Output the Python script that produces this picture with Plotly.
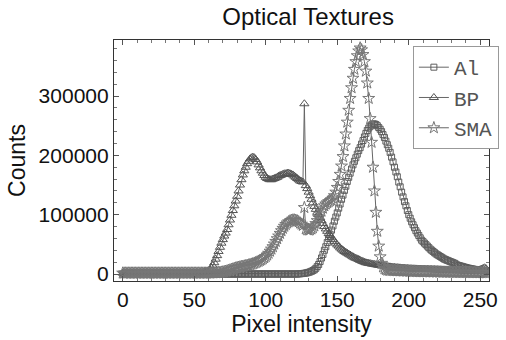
import plotly.graph_objects as go

# Pixel intensity 0..255
intensity = list(range(256))

# Counts in thousands
al_k = [
    0, 0, 0, 0, 0, 0, 0, 0, 0, 0,            # 0
    0, 0, 0, 0, 0, 0, 0, 0, 0, 0,            # 10
    0, 0, 0, 0, 0, 0, 0, 0, 0, 0,            # 20
    0, 0, 0, 0, 0, 0, 0, 0, 0, 0,            # 30
    0, 0, 0, 0, 0, 0, 0, 0, 0, 0,            # 40
    0, 0, 0, 0, 0, 0, 0, 0, 0, 0,            # 50
    0, 0, 0, 0, 0, 0, 0, 0, 0, 0,            # 60
    0, 0, 0, 0, 0, 0, 0, 0, 0, 0,            # 70
    0, 0, 0, 0, 0, 0, 0, 0, 0, 0,            # 80
    0, 0, 0, 0, 0, 0, 0, 0, 0, 0,            # 90
    0, 0, 0, 0, 0, 0, 0, 0, 0, 0,            # 100
    0, 0, 0, 0, 0, 0, 0, 0, 0, 0,            # 110
    0, 0, 0, 0.2, 0.4, 0.6, 0.9, 1.2, 1.6, 2.1,            # 120
    2.8, 3.6, 4.6, 5.8, 7.2, 9.5, 12.5, 16, 21, 27,        # 130
    33, 40, 46, 53, 60, 67, 74, 81, 89, 96,                # 140
    103, 111, 118, 126, 133, 141, 148, 156, 163, 170,      # 150
    177, 184, 190, 196, 202, 208, 213, 219, 225, 231,      # 160
    237, 242, 246, 249, 251, 253, 253, 252, 250, 247,      # 170
    244, 240, 235, 230, 224, 218, 212, 205, 197, 189,      # 180
    180, 172, 164, 155, 147, 138, 130, 122, 115, 107,      # 190
    100, 94, 88, 83, 78, 73, 69, 65, 61, 57,               # 200
    54.5, 52, 49.5, 47, 44.5, 42, 40, 38, 36, 34,          # 210
    32.5, 31, 29.5, 28, 26.5, 25, 24, 23, 22, 21,          # 220
    20, 19, 18, 16.5, 15, 14.3, 13.6, 12.9, 12.2, 11.5,    # 230
    10.8, 10.2, 9.7, 9.2, 8.7, 8.2, 7.8, 7.4, 7.0, 6.7,    # 240
    6.4, 6.1, 5.8, 5.5, 5.2, 5.0,                          # 250
]

bp_k = [
    1.5, 1.5, 1.5, 1.5, 1.5, 1.5, 1.5, 1.5, 1.5, 1.5,      # 0
    1.5, 1.5, 1.5, 1.5, 1.5, 1.5, 1.5, 1.5, 1.5, 1.5,      # 10
    1.5, 1.5, 1.5, 1.5, 1.5, 1.5, 1.5, 1.5, 1.5, 1.5,      # 20
    1.5, 1.5, 1.5, 1.5, 1.5, 1.5, 1.5, 1.5, 1.5, 1.5,      # 30
    1.5, 1.5, 1.5, 1.5, 1.5, 1.5, 1.5, 1.5, 1.5, 1.5,      # 40
    1.5, 1.6, 1.7, 1.8, 2.0, 2.2, 2.5, 3.0, 3.6, 4.5,      # 50
    5.5, 7, 10, 14, 19, 25, 31, 38, 45, 52,                # 60
    58, 64, 69, 75, 83, 91, 99, 107, 115, 123,             # 70
    131, 140, 150, 159, 167, 174, 180, 186, 190, 194,      # 80
    196, 197, 196, 193, 189, 184, 179, 174, 170, 166,      # 90
    163, 161, 160, 159, 159, 160, 161, 162, 163, 165,      # 100
    166, 167, 168, 169, 169, 170, 170, 169, 168, 167,      # 110
    165, 163, 161, 159, 157, 156, 155, 287, 149, 144,      # 120
    138, 132, 126, 120, 114, 109, 104, 100, 95, 90,        # 130
    85, 80, 76, 72, 68, 65, 62, 58, 55, 52,                # 140
    49, 47, 44, 42, 40, 38, 36.5, 35, 33.5, 32,            # 150
    30.5, 29, 27.5, 26.5, 25.5, 24.5, 23, 22, 21, 20,      # 160
    19, 18.5, 18, 17.5, 17, 16.5, 16, 15.6, 15.2, 14.8,    # 170
    14.4, 14, 13.6, 13.2, 12.9, 12.6, 12.3, 12, 11.7, 11.4,  # 180
    11.1, 10.9, 10.7, 10.5, 10.3, 10.1, 9.9, 9.7, 9.5, 9.3,  # 190
    9.1, 9.0, 8.9, 8.8, 8.7, 8.6, 8.5, 8.4, 8.3, 8.2,      # 200
    8.1, 8.0, 7.9, 7.8, 7.7, 7.6, 7.5, 7.4, 7.3, 7.2,      # 210
    7.1, 7.0, 6.9, 6.8, 6.7, 6.6, 6.5, 6.4, 6.3, 6.2,      # 220
    6.1, 6.0, 5.9, 5.8, 5.7, 5.6, 5.5, 5.4, 5.3, 5.2,      # 230
    5.1, 5.0, 5.0, 5.0, 5.0, 5.1, 5.3, 5.6, 6.0, 6.6,      # 240
    7.4, 8.4, 9.5, 10.5, 9.0, 5.0,                         # 250
]

sma_k = [
    1.5, 1.5, 1.5, 1.5, 1.5, 1.5, 1.5, 1.5, 1.5, 1.5,      # 0
    1.5, 1.5, 1.5, 1.5, 1.5, 1.5, 1.5, 1.5, 1.5, 1.5,      # 10
    1.5, 1.5, 1.5, 1.5, 1.5, 1.5, 1.5, 1.5, 1.5, 1.5,      # 20
    1.5, 1.5, 1.5, 1.5, 1.5, 1.5, 1.5, 1.5, 1.5, 1.5,      # 30
    1.5, 1.5, 1.5, 1.5, 1.5, 1.5, 1.5, 1.5, 1.5, 1.5,      # 40
    1.5, 1.5, 1.5, 1.5, 1.5, 1.5, 1.5, 1.5, 1.5, 1.5,      # 50
    1.5, 1.6, 1.7, 1.8, 1.9, 2.0, 2.2, 2.4, 2.7, 3.0,      # 60
    3.4, 3.9, 4.5, 5.2, 6.0, 6.8, 7.6, 8.4, 9.2, 10,       # 70
    10.7, 11.3, 11.9, 12.4, 12.9, 13.4, 13.9, 14.5, 15.1, 15.8,  # 80
    16.5, 17.3, 18.2, 19.2, 20.3, 21.5, 22.8, 24.2, 25.8, 27.5,  # 90
    29.5, 32, 35, 38.5, 42, 46, 50.5, 55, 59.5, 64,        # 100
    68.5, 73, 77, 80.5, 83.5, 86, 88, 89.5, 90.5, 91,      # 110
    91, 90.5, 89.5, 88, 86, 84, 82, 112, 76, 74.5,         # 120
    74, 74.5, 76, 78, 81, 85, 90, 95, 101, 106,            # 130
    111, 115, 118, 120, 122, 123.5, 125, 128, 132, 138,    # 140
    146, 156, 168, 182, 198, 216, 236, 256, 276, 296,      # 150
    314, 330, 345, 358, 368, 376, 381, 378, 370, 358,      # 160
    342, 322, 296, 262, 222, 180, 140, 104, 72, 47,        # 170
    29, 18, 12, 9, 7.5, 6.5, 6.2, 6.0, 5.9, 5.8,           # 180
    5.7, 5.6, 5.5, 5.4, 5.3, 5.2, 5.1, 5.0, 4.9, 4.8,      # 190
    4.7, 4.6, 4.5, 4.4, 4.3, 4.2, 4.1, 4.0, 4.0, 3.9,      # 200
    3.9, 3.8, 3.8, 3.7, 3.7, 3.6, 3.6, 3.5, 3.5, 3.4,      # 210
    3.4, 3.3, 3.3, 3.2, 3.2, 3.1, 3.1, 3.0, 3.0, 3.0,      # 220
    2.9, 2.9, 2.9, 2.8, 2.8, 2.8, 2.7, 2.7, 2.7, 2.6,      # 230
    2.6, 2.6, 2.5, 2.5, 2.5, 2.4, 2.4, 2.4, 2.3, 2.3,      # 240
    2.3, 2.2, 2.2, 2.2, 2.1, 2.1,                          # 250
]

series_names = ["Al", "BP", "SMA"]
x_ticks = [0, 50, 100, 150, 200, 250]
y_ticks = [0, 100000, 200000, 300000]

def scale(vals):
    return [v * 1000 for v in vals]

fig = go.Figure()
styles = {
    "Al": dict(symbol="square-open", size=6, color="#5e5e5e"),
    "BP": dict(symbol="triangle-up-open", size=8, color="#555555"),
    "SMA": dict(symbol="star-open", size=9, color="#777777"),
}
for name, vals in zip(series_names, [al_k, bp_k, sma_k]):
    st = styles[name]
    fig.add_trace(go.Scatter(
        x=intensity, y=scale(vals), name=name, mode="lines+markers",
        line=dict(color="#666666", width=1),
        marker=dict(symbol=st["symbol"], size=st["size"], color=st["color"],
                    line=dict(width=1, color=st["color"])),
    ))

font_main = "Liberation Sans, Arial, sans-serif"
axis_common = dict(
    showline=True, linecolor="#333333", linewidth=1.2, mirror="allticks",
    ticks="inside", ticklen=5, tickcolor="#555555", showgrid=False, zeroline=False,
    tickfont=dict(family=font_main, size=21, color="#111111"),
)

fig.update_layout(
    width=506, height=340,
    margin=dict(l=114, r=7, t=40, b=59),
    paper_bgcolor="white", plot_bgcolor="white",
    title=dict(text="Optical Textures", x=0.609, xanchor="center", y=0.95, yanchor="middle",
               font=dict(family=font_main, size=24, color="#111111")),
    xaxis=dict(range=[-6.1, 256.1], tickvals=x_ticks, tickformat="d",
               minor=dict(ticks="inside", dtick=10, ticklen=3, tickcolor="#777777"),
               title=dict(text="Pixel intensity", standoff=2,
                          font=dict(family=font_main, size=23, color="#111111")),
               **axis_common),
    yaxis=dict(range=[-11800, 394500], tickvals=y_ticks, tickformat="d",
               minor=dict(ticks="inside", dtick=20000, ticklen=3, tickcolor="#777777"),
               title=dict(text="Counts", standoff=6,
                          font=dict(family=font_main, size=23, color="#111111")),
               **axis_common),
    legend=dict(x=0.797, y=0.975, xanchor="left", yanchor="top",
                bgcolor="white", bordercolor="#999999", borderwidth=1, itemwidth=30,
                font=dict(family="Liberation Mono, Courier New, monospace", size=21, color="#555555")),
    showlegend=True,
)

fig.write_html("out.html")
